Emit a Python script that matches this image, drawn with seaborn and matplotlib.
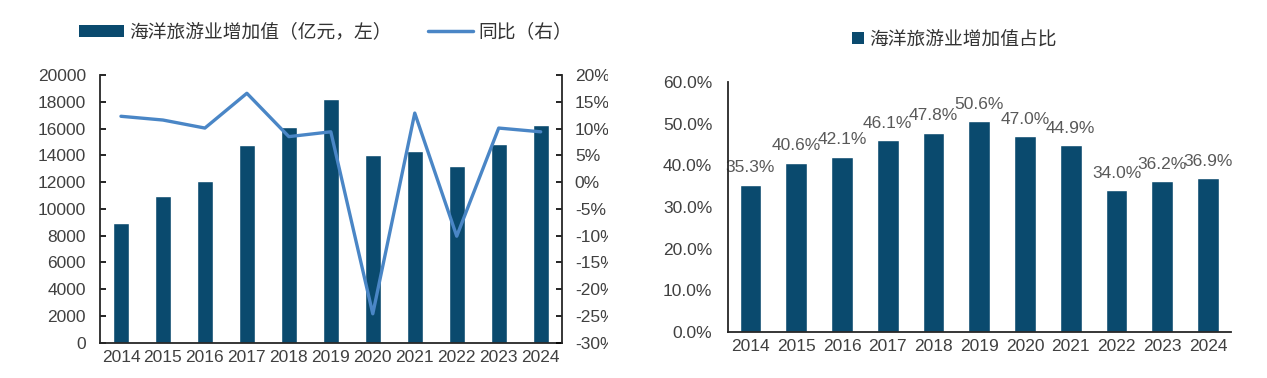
import matplotlib
matplotlib.use("Agg")
import matplotlib.pyplot as plt
import numpy as np
import pandas as pd
import seaborn as sns
from matplotlib.lines import Line2D
from matplotlib.patches import Patch
from matplotlib.transforms import Bbox, TransformedBbox

# --- data ---
years = ['2014', '2015', '2016', '2017', '2018', '2019', '2020', '2021', '2022', '2023', '2024']
added_value = [8950, 11000, 12100, 14750, 16150, 18200, 14000, 14300, 13200, 14850, 16250]  # 亿元
yoy_pct = [12.3, 11.6, 10.1, 16.6, 8.5, 9.4, -24.6, 12.9, -10.1, 10.1, 9.4]
share_pct = [35.3, 40.6, 42.1, 46.1, 47.8, 50.6, 47.0, 44.9, 34.0, 36.2, 36.9]

left_ticks = list(range(0, 20001, 2000))
right_ticks = list(range(-30, 21, 5))
share_ticks = list(range(0, 61, 10))

BAR = '#0a4a6e'
LINE = '#4a86c6'
TXT = '#404040'

sns.set_style('white')
plt.rcParams['font.family'] = ['Liberation Sans', 'Noto Sans CJK SC', 'DejaVu Sans']
plt.rcParams['axes.linewidth'] = 1.3

df = pd.DataFrame({'year': years, 'value': added_value, 'yoy': yoy_pct,
                   'share': share_pct, 'pos': np.arange(len(years))})

fig = plt.figure(figsize=(12.67, 3.78), dpi=100)

# --- left chart: bars + yoy line ---
ax1 = fig.add_axes([0.0789, 0.0934, 0.3644, 0.708])
ax2 = ax1.twinx()
sns.barplot(data=df, x='year', y='value', ax=ax1, color=BAR, width=0.385, saturation=1)
sns.lineplot(data=df, x='pos', y='yoy', ax=ax2, color=LINE, linewidth=2.4)

ax1.set_xlim(-0.5, len(years) - 0.5)
ax1.set_ylim(0, 20000)
ax1.set_yticks(left_ticks)
ax1.set_yticklabels([str(v) for v in left_ticks])
ax2.set_ylim(-30, 20)
ax2.set_yticks(right_ticks)
ax2.set_yticklabels([f'{v}%' for v in right_ticks])

for ax in (ax1, ax2):
    ax.set_xlabel('')
    ax.set_ylabel('')
    ax.spines['top'].set_visible(False)
ax1.spines['right'].set_visible(False)
ax2.spines['left'].set_visible(False)
ax2.spines['bottom'].set_visible(False)

ax1.set_xticks(range(len(years)))
ax1.set_xticklabels(years)
ax1.set_xticks(np.arange(-0.5, len(years), 1), minor=True)
ax1.tick_params(axis='x', which='major', length=0, pad=5, labelsize=12.5, labelcolor=TXT)
ax1.tick_params(axis='x', which='minor', direction='in', length=4, width=1.2, color='black')
ax1.tick_params(axis='y', direction='in', length=4, width=1.2, pad=10, labelsize=12.5,
                labelcolor=TXT, color='black')
ax2.tick_params(axis='y', direction='in', length=4, width=1.2, pad=9.5, labelsize=12.5,
                labelcolor=TXT, color='black')

# right-hand labels are cut off at the edge of the left panel in the source image
clip = TransformedBbox(Bbox([[0, 0], [608 / 1267, 1]]), fig.transFigure)
for t in ax2.get_yticklabels():
    t.set_clip_box(clip)
    t.set_clip_on(True)

fig.legend([Patch(facecolor=BAR, edgecolor='none'), Line2D([], [], color=LINE, lw=2.5)],
           ['海洋旅游业增加值（亿元，左）', '同比（右）'],
           loc='center', bbox_to_anchor=(0.257, 0.915), ncol=2, frameon=False,
           prop={'family': ['Noto Sans CJK SC'], 'size': 13.5},
           handlelength=2.4, handleheight=0.55, handletextpad=0.3, columnspacing=1.9,
           labelcolor='#333333')

# --- right chart: share of value added ---
ax3 = fig.add_axes([0.5743, 0.1217, 0.3972, 0.661])
sns.barplot(data=df, x='year', y='share', ax=ax3, color=BAR, width=0.475, saturation=1)
ax3.set_xlim(-0.5, len(years) - 0.5)
ax3.set_ylim(0, 60)
ax3.set_yticks(share_ticks)
ax3.set_yticklabels([f'{v:.1f}%' for v in share_ticks])
ax3.set_xlabel('')
ax3.set_ylabel('')
ax3.spines['top'].set_visible(False)
ax3.spines['right'].set_visible(False)
ax3.set_xticks(np.arange(-0.5, len(years), 1), minor=True)
ax3.tick_params(axis='x', which='major', length=0, pad=5, labelsize=12.5, labelcolor=TXT)
ax3.tick_params(axis='x', which='minor', direction='in', length=4, width=1.2, color='black')
ax3.tick_params(axis='y', direction='in', length=4, width=1.2, pad=11, labelsize=12.5,
                labelcolor=TXT, color='black')

for i, v in enumerate(share_pct):
    ax3.annotate(f'{v:.1f}%', (i, v), xytext=(0, 9), textcoords='offset points',
                 ha='center', va='baseline', fontsize=12.5, color='#595959',
                 zorder=2, annotation_clip=False)

fig.legend([Patch(facecolor=BAR, edgecolor='none')], ['海洋旅游业增加值占比'],
           loc='center', bbox_to_anchor=(0.7534, 0.897), frameon=False,
           prop={'family': ['Noto Sans CJK SC'], 'size': 13.5},
           handlelength=0.64, handleheight=0.64, handletextpad=0.3,
           labelcolor='#333333')

fig.savefig('out.png', dpi=100)
